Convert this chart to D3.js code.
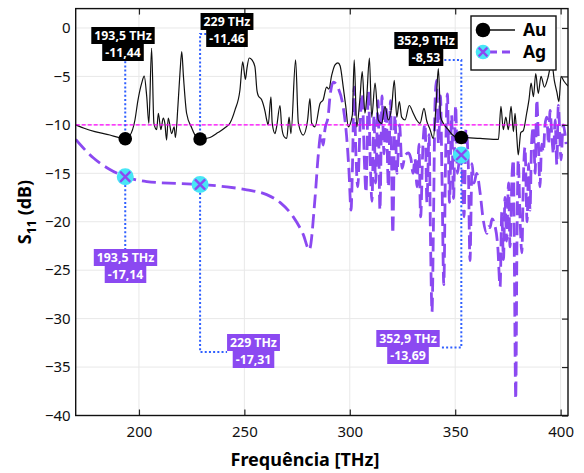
<!DOCTYPE html>
<html>
<head>
<meta charset="utf-8">
<script src="https://cdn.jsdelivr.net/npm/d3@7"></script>
<style>
  body { margin: 0; background: #fff; }
  text { font-family: "Noto Sans", sans-serif; }
</style>
</head>
<body>
<svg id="chart" width="584" height="473"></svg>
<script>
// Au curve (THz, dB)
let auFreq = [170.0, 174.0, 179.1, 186.2, 190.2, 193.5, 195.7, 198.1, 199.5, 201.3, 202.5, 203.7, 204.7, 206.0, 207.1, 208.4, 209.2,
    210.4, 211.5, 212.3, 213.1, 213.9, 215.5, 216.7, 217.3, 218.5, 219.5, 220.3, 221.1, 222.6, 225.0, 227.0, 229.0,
    233.7, 237.5, 240.8, 243.2, 245.5, 247.9, 249.2, 250.5, 251.2, 252.3, 253.6, 255.0, 256.0, 256.6, 258.2, 259.8,
    260.6, 261.3, 262.6, 263.2, 264.5, 265.3, 266.9, 267.7, 268.8, 270.1, 271.2, 272.1, 274.3, 275.6, 277.9, 280.0,
    281.1, 281.9, 283.5, 285.9, 287.4, 289.0, 290.1, 291.4, 293.0, 294.4, 295.4, 296.9, 298.1, 299.3, 301.2, 302.1,
    303.3, 304.8, 305.9, 307.2, 308.0, 309.3, 310.4, 312.0, 313.5, 315.1, 316.7, 318.3, 319.9, 321.1, 322.3, 323.5,
    324.6, 326.2, 328.2, 330.1, 331.7, 333.3, 335.2, 336.5, 338.1, 339.6, 340.9, 342.0, 343.1, 344.4, 346.7, 348.8,
    351.3, 352.9, 361.8, 370.5, 371.7, 372.8, 374.0, 375.2, 376.5, 377.6, 378.4, 379.2, 379.9, 381.1, 382.3, 383.9,
    385.0, 386.0, 387.1, 388.2, 389.4, 390.7, 392.3, 393.9, 395.8, 397.0, 398.2, 399.2, 400.2, 401.6, 403.5]
let auS11 = [-10.0, -10.35, -10.7, -11.05, -11.3, -11.44, -11.1, -9.5, -7.5, -5.7, -4.96, -7.1, -9.85, -2.1, -9.85, -10.5, -8.8,
    -10.5, -9.3, -9.85, -11.57, -9.3, -10.9, -10.2, -11.3, -8.0, -4.5, -2.45, -5.0, -8.8, -10.3, -11.2, -11.46,
    -11.3, -10.8, -10.3, -9.8, -8.5, -6.4, -3.5, -5.3, -4.2, -3.1, -3.3, -4.0, -6.5, -7.0, -7.4, -8.6,
    -9.5, -10.0, -7.1, -9.8, -10.9, -10.2, -8.0, -10.2, -11.2, -11.4, -9.2, -10.9, -3.3, -9.8, -11.05, -9.5,
    -7.3, -9.8, -10.2, -7.8, -7.4, -6.1, -6.3, -4.9, -3.8, -3.6, -3.9, -6.1, -8.1, -10.2, -9.0, -3.3,
    -10.2, -7.3, -4.5, -8.8, -7.3, -3.1, -9.2, -5.7, -9.5, -9.85, -8.1, -9.5, -8.1, -5.4, -9.2, -7.6,
    -9.2, -9.5, -8.0, -8.8, -9.5, -9.85, -8.3, -9.6, -10.5, -11.4, -8.0, -4.2, -9.2, -9.85, -10.5, -11.05,
    -11.3, -11.3, -11.4, -11.5, -8.1, -10.5, -9.2, -10.5, -8.1, -10.7, -8.8, -11.2, -13.1, -10.8, -10.6, -8.8,
    -7.4, -5.7, -7.1, -4.7, -6.75, -5.0, -6.1, -5.2, -3.6, -5.4, -6.6, -7.6, -5.0, -5.5, -6.0]

// Ag curve (THz, dB)
let agFreq = [170.0, 178.3, 186.2, 193.5, 203.7, 217.9, 229.0, 241.6, 251.1, 260.6, 266.9, 273.2, 277.9, 280.8, 283.5, 285.1,
    286.3, 287.4, 288.2, 289.8, 290.6, 292.2, 294.5, 296.9, 298.5, 299.6, 300.6, 301.2, 302.1, 302.8, 303.8, 304.8,
    305.9, 306.9, 307.7, 308.8, 309.8, 310.5, 311.5, 312.2, 313.4, 314.3, 315.3, 316.2, 317.2, 318.3, 319.3, 320.4,
    321.4, 322.4, 323.6, 324.8, 326.2, 327.8, 329.0, 330.0, 330.9, 331.9, 332.8, 333.6, 334.7, 335.7, 336.6, 337.6,
    338.3, 339.0, 339.7, 340.4, 341.1, 342.1, 343.0, 343.7, 344.6, 345.4, 346.3, 347.3, 348.3, 349.2, 350.2, 351.1,
    352.3, 352.9, 354.2, 355.1, 356.2, 357.0, 358.0, 358.9, 360.2, 361.8, 363.3, 365.0, 365.8, 366.5, 367.5, 368.6,
    370.2, 371.3, 372.1, 372.9, 373.6, 374.4, 375.3, 376.0, 377.0, 377.6, 378.1, 378.7, 379.3, 379.9, 380.8, 381.6,
    382.4, 383.1, 384.1, 384.8, 385.5, 386.2, 387.1, 387.9, 388.7, 389.5, 390.2, 391.0, 391.8, 392.6, 393.4, 394.3,
    395.0, 395.8, 396.6, 397.4, 398.2, 398.9, 400.2, 401.2, 402.6]
let agS11 = [-11.5, -13.4, -14.6, -15.35, -15.85, -16.05, -16.15, -16.4, -16.7, -17.2, -18.0, -19.5, -21.3, -22.9, -17.6, -13.0,
    -10.9, -12.1, -10.5, -9.0, -7.1, -5.6, -6.2, -8.2, -11.2, -14.7, -18.8, -15.0, -6.1, -12.3, -16.4, -10.5,
    -6.8, -13.6, -17.0, -6.5, -14.5, -17.9, -9.0, -16.0, -7.5, -18.8, -7.0, -13.0, -8.0, -16.4, -7.5, -21.2,
    -9.0, -15.0, -10.0, -14.5, -13.2, -12.9, -13.5, -15.0, -13.5, -16.4, -12.0, -19.5, -12.0, -9.9, -18.0, -11.0,
    -22.0, -29.3, -20.0, -8.0, -5.4, -12.0, -7.0, -15.0, -26.5, -14.0, -6.8, -18.0, -9.0, -17.6, -8.0, -15.0,
    -13.0, -13.1, -19.5, -10.5, -14.0, -24.0, -14.0, -16.0, -15.0, -17.0, -19.8, -21.2, -20.5, -20.6, -19.7, -20.2,
    -22.6, -26.7, -19.0, -23.9, -17.5, -22.0, -16.0, -22.6, -15.0, -13.6, -25.0, -38.3, -22.0, -13.6, -20.0, -23.2,
    -15.0, -12.3, -20.0, -14.0, -18.8, -12.0, -10.2, -15.0, -7.4, -12.0, -16.4, -12.0, -12.8, -10.0, -9.2, -12.0,
    -8.5, -11.0, -13.0, -9.5, -14.1, -8.0, -13.6, -10.0, -12.0]

// marked points
let markFreq = [193.5, 229, 352.9]
let markAu = [-11.44, -11.46, -11.3]
let markAg = [-15.35, -16.15, -13.1]
let freqText = ['193,5 THz', '229 THz', '352,9 THz']
let auValText = ['-11,44', '-11,46', '-8,53']
let agValText = ['-17,14', '-17,31', '-13,69']

let xTicks = [200, 250, 300, 350, 400]
let yTicks = [0, -5, -10, -15, -20, -25, -30, -35, -40]
let refLevel = -10

let purple = '#8b49f1',
    cyan = '#48e6f6',
    leaderBlue = '#3060ff'

let margin = { left: 75.7, right: 16, top: 8.6, bottom: 57.5 },
    W = 584, H = 473

let svg = d3.select('#chart')

let x = d3.scaleLinear().domain([170, 403.5]).range([margin.left, W - margin.right])
let y = d3.scaleLinear().domain([-40, 2]).range([H - margin.bottom, margin.top])

let x0 = x.range()[0], x1 = x.range()[1], y0 = y.range()[1], y1 = y.range()[0]

svg.append('clipPath').attr('id', 'clip')
    .append('rect').attr('x', x0).attr('y', y0).attr('width', x1 - x0).attr('height', y1 - y0)

// grid
let grid = svg.append('g').attr('stroke', '#e8e8e8').attr('stroke-width', 1)
xTicks.forEach(t => grid.append('line').attr('x1', x(t)).attr('x2', x(t)).attr('y1', y0).attr('y2', y1))
yTicks.forEach(t => grid.append('line').attr('x1', x0).attr('x2', x1).attr('y1', y(t)).attr('y2', y(t)))

let plot = svg.append('g').attr('clip-path', 'url(#clip)')

let agData = agFreq.map((f, i) => [f, agS11[i]])
let auData = auFreq.map((f, i) => [f, auS11[i]])
let line = d3.line().x(d => x(d[0])).y(d => y(d[1])).curve(d3.curveMonotoneX)

plot.append('path').datum(agData)
    .attr('d', line)
    .attr('fill', 'none')
    .attr('stroke', purple)
    .attr('stroke-width', 2.8)
    .attr('stroke-dasharray', '14,6')

plot.append('path').datum(auData)
    .attr('d', line)
    .attr('fill', 'none')
    .attr('stroke', '#111')
    .attr('stroke-width', 1.2)
    .attr('stroke-linejoin', 'round')

plot.append('line')
    .attr('x1', x0).attr('x2', x1).attr('y1', y(refLevel)).attr('y2', y(refLevel))
    .attr('stroke', '#ff00ff').attr('stroke-width', 1.3).attr('stroke-dasharray', '4,2')

// axes
let fs = 15
let gx = svg.append('g').attr('transform', `translate(0,${y1})`)
    .call(d3.axisBottom(x).tickValues(xTicks).tickSize(-6).tickPadding(11))
let gxt = svg.append('g').attr('transform', `translate(0,${y0})`)
    .call(d3.axisTop(x).tickValues(xTicks).tickSize(-6).tickFormat(''))
let gyr = svg.append('g').attr('transform', `translate(${x1},0)`)
    .call(d3.axisRight(y).tickValues(yTicks).tickSize(-6).tickFormat(''))
let gy = svg.append('g').attr('transform', `translate(${x0},0)`)
    .call(d3.axisLeft(y).tickValues(yTicks).tickSize(0).tickPadding(5))

;[gx, gxt, gyr, gy].forEach(g => {
    g.select('.domain').remove()
    g.selectAll('line').attr('stroke', '#222').attr('stroke-width', 1.2)
    g.selectAll('text').attr('font-size', fs).attr('fill', '#111')
        .attr('font-family', '"Noto Sans", sans-serif')
})

svg.append('rect')
    .attr('x', x0).attr('y', y0).attr('width', x1 - x0).attr('height', y1 - y0)
    .attr('fill', 'none').attr('stroke', '#111').attr('stroke-width', 1.4)

// axis titles
svg.append('text')
    .attr('x', 305).attr('y', 466)
    .attr('text-anchor', 'middle')
    .attr('font-size', 18).attr('font-weight', 'bold')
    .text('Frequência [THz]')

let yl = svg.append('text')
    .attr('transform', `translate(31,${(y0 + y1) / 2}) rotate(-90)`)
    .attr('text-anchor', 'middle')
    .attr('font-size', 18).attr('font-weight', 'bold')
yl.append('tspan').text('S')
yl.append('tspan').attr('font-size', 12.5).attr('dy', 5).text('11')
yl.append('tspan').attr('dy', -5).text('\u00a0(dB)')

// leaders first, so labels and markers sit on top
let leaders = svg.append('g')
let labels = svg.append('g')
let marks = svg.append('g')

// annotation labels: one box per text line
let drawLabel = (cx, top, lines, fill) => {
    let g = labels.append('g')
    let lh = 17
    let boxes = []
    lines.forEach((t, i) => {
        let txt = g.append('text')
            .attr('x', cx).attr('y', top + lh * i + 12.8)
            .attr('text-anchor', 'middle')
            .attr('font-size', 12.3).attr('font-weight', 'bold')
            .attr('fill', '#fff')
            .text(t)
        let w = txt.node().getComputedTextLength() + 6
        g.insert('rect', 'text')
            .attr('x', cx - w / 2).attr('y', top + lh * i)
            .attr('width', w).attr('height', lh)
            .attr('fill', fill)
        boxes.push({ left: cx - w / 2, right: cx + w / 2, top: top + lh * i, bottom: top + lh * (i + 1) })
    })
    return boxes
}

let leader = pts => leaders.append('path')
    .attr('d', d3.line()(pts))
    .attr('fill', 'none')
    .attr('stroke', leaderBlue)
    .attr('stroke-width', 2)
    .attr('stroke-dasharray', '2,2.2')

// label placement (label centre x, top y) in pixels
let auPlace = [[123, 27], [227, 13], [426, 32]]
let agPlace = [[125.5, 249], [253.5, 334], [408, 330]]

let auBoxes = [], agBoxes = []
markFreq.forEach((f, i) => {
    auBoxes.push(drawLabel(auPlace[i][0], auPlace[i][1], [freqText[i], auValText[i]], '#000'))
    agBoxes.push(drawLabel(agPlace[i][0], agPlace[i][1], [freqText[i], agValText[i]], purple))
})

let mx = markFreq.map(f => x(f))
leader([[mx[0], y(markAu[0])], [mx[0], auBoxes[0][1].bottom]])
leader([[mx[1], y(markAu[1])], [mx[1], 34], [auBoxes[1][1].left, 34]])
leader([[mx[2], y(markAu[2])], [mx[2], 60], [auBoxes[2][1].right, 60]])
leader([[mx[0], y(markAg[0])], [mx[0], agBoxes[0][0].top]])
leader([[mx[1], y(markAg[1])], [mx[1], 352], [agBoxes[1][0].left, 352]])
leader([[mx[2], y(markAg[2])], [mx[2], 347.5], [agBoxes[2][0].right, 347.5]])

// markers
let agMark = (g, cx, cy, r) => {
    g.append('circle').attr('cx', cx).attr('cy', cy).attr('r', r).attr('fill', cyan)
    let s = r * 0.6
    g.append('path')
        .attr('d', `M${cx - s},${cy - s}L${cx + s},${cy + s}M${cx - s},${cy + s}L${cx + s},${cy - s}`)
        .attr('stroke', purple).attr('stroke-width', 2.4)
}
markFreq.forEach((f, i) => {
    marks.append('circle').attr('cx', x(f)).attr('cy', y(markAu[i])).attr('r', 6.8).attr('fill', '#000')
    agMark(marks, x(f), y(markAg[i]), 8.5)
})

// legend
let lg = svg.append('g').attr('transform', 'translate(471,16)')
lg.append('rect').attr('width', 85).attr('height', 54)
    .attr('fill', '#fff').attr('stroke', '#111').attr('stroke-width', 1.4)
lg.append('line').attr('x1', 12).attr('x2', 44).attr('y1', 14).attr('y2', 14)
    .attr('stroke', '#111').attr('stroke-width', 1.5)
lg.append('circle').attr('cx', 12).attr('cy', 14).attr('r', 7.3).attr('fill', '#000')
lg.append('line').attr('x1', 18).attr('x2', 44).attr('y1', 36).attr('y2', 36)
    .attr('stroke', purple).attr('stroke-width', 2.8).attr('stroke-dasharray', '8,5')
agMark(lg, 12, 36, 7.3)
lg.append('text').attr('x', 52).attr('y', 20).attr('font-size', 17.5).attr('font-weight', 'bold').text('Au')
lg.append('text').attr('x', 52).attr('y', 42).attr('font-size', 17.5).attr('font-weight', 'bold').text('Ag')
</script>
</body>
</html>
